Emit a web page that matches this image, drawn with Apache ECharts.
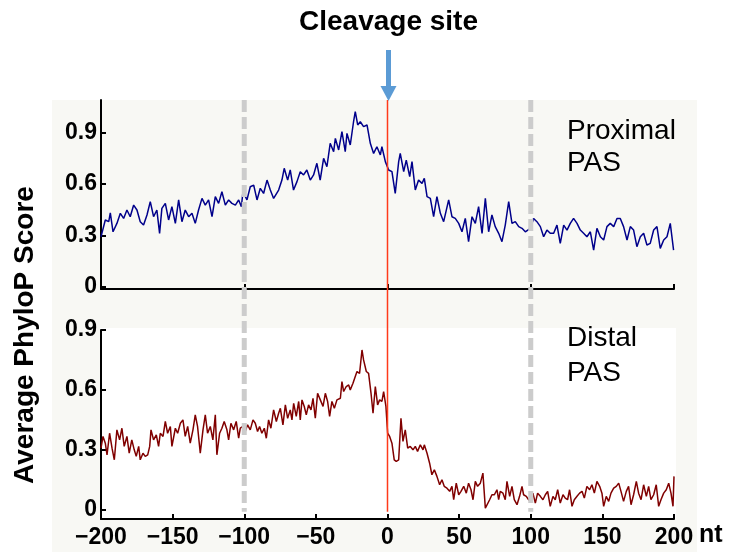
<!DOCTYPE html>
<html><head><meta charset="utf-8">
<script src="https://cdn.jsdelivr.net/npm/echarts@6/dist/echarts.min.js"></script>
<style>html,body{margin:0;padding:0;background:#fff}#c{width:730px;height:552px}</style>
</head><body><div id="c"></div>
<script>
// ---- data ----
const proximalNt = [-200.0,-197.0,-194.6,-193.5,-191.6,-188.9,-186.5,-184.2,-181.9,-179.6,-177.2,-174.9,-172.6,-170.3,-167.9,-165.6,-163.3,-161.0,-159.1,-157.5,-155.1,-152.8,-150.5,-148.1,-145.8,-143.5,-141.2,-138.8,-136.5,-134.2,-131.9,-129.5,-127.2,-124.9,-122.5,-120.2,-117.9,-115.6,-113.2,-110.9,-108.6,-106.2,-103.9,-102.0,-100.9,-98.1,-95.8,-93.4,-91.1,-88.8,-86.5,-84.1,-81.8,-79.5,-76.0,-73.7,-72.1,-69.7,-67.9,-65.6,-63.2,-60.9,-58.6,-56.3,-53.9,-51.6,-49.3,-47.0,-44.6,-42.3,-40.0,-37.6,-36.4,-34.1,-31.8,-29.5,-28.3,-26.0,-23.7,-22.5,-20.8,-19.0,-16.7,-14.3,-12.0,-9.7,-7.4,-5.0,-3.9,-1.5,0.8,3.1,5.4,7.8,8.9,11.3,13.1,15.5,17.1,19.4,21.7,24.1,25.7,27.6,29.9,32.2,34.5,36.9,39.2,42.7,45.0,47.3,49.7,52.0,54.3,56.6,59.0,61.3,63.6,66.0,68.3,70.6,72.9,75.2,77.6,79.9,82.2,84.6,86.9,89.2,91.6,93.9,96.2,99.7,102.0,104.3,106.7,109.0,111.3,113.6,116.0,118.3,120.6,123.0,125.3,127.6,129.9,132.3,134.6,136.9,139.2,141.6,143.9,146.2,148.6,150.9,153.2,155.5,157.9,160.2,162.5,164.8,167.2,169.5,171.8,174.1,176.5,178.8,181.1,183.4,185.8,188.1,190.4,192.8,195.1,197.4,198.6,199.7];
const proximalScore = [0.292,0.390,0.380,0.432,0.321,0.370,0.429,0.399,0.448,0.409,0.477,0.448,0.380,0.360,0.419,0.497,0.409,0.448,0.312,0.458,0.487,0.390,0.468,0.370,0.507,0.380,0.448,0.409,0.429,0.370,0.448,0.516,0.477,0.507,0.409,0.526,0.487,0.555,0.477,0.507,0.487,0.477,0.507,0.468,0.555,0.507,0.584,0.594,0.507,0.575,0.545,0.623,0.565,0.516,0.565,0.623,0.692,0.623,0.682,0.565,0.614,0.672,0.653,0.682,0.623,0.653,0.721,0.623,0.750,0.701,0.838,0.789,0.867,0.799,0.906,0.789,0.896,0.828,0.964,1.023,0.945,0.964,0.935,0.945,0.838,0.779,0.818,0.770,0.818,0.731,0.682,0.672,0.545,0.731,0.779,0.672,0.740,0.643,0.731,0.565,0.623,0.604,0.633,0.526,0.516,0.409,0.526,0.429,0.380,0.507,0.409,0.399,0.370,0.321,0.399,0.263,0.409,0.370,0.468,0.312,0.516,0.321,0.419,0.351,0.312,0.263,0.360,0.497,0.370,0.380,0.351,0.341,0.321,0.341,0.399,0.380,0.351,0.292,0.331,0.312,0.312,0.360,0.253,0.360,0.331,0.370,0.399,0.370,0.331,0.312,0.292,0.321,0.214,0.341,0.292,0.273,0.351,0.370,0.351,0.399,0.399,0.351,0.273,0.351,0.331,0.234,0.292,0.312,0.244,0.253,0.331,0.351,0.224,0.273,0.292,0.370,0.380,0.214];

const distalNt = [-200.0,-198.6,-197.0,-195.8,-194.0,-192.3,-190.7,-188.9,-187.0,-185.4,-183.8,-181.9,-180.3,-178.5,-176.8,-175.4,-173.7,-172.6,-170.7,-169.1,-167.4,-166.0,-165.1,-163.3,-161.4,-159.8,-158.6,-156.7,-155.1,-153.5,-151.6,-150.5,-148.1,-146.5,-144.6,-142.8,-141.2,-139.5,-137.7,-135.8,-134.2,-132.6,-130.7,-128.8,-127.2,-125.6,-123.7,-121.9,-120.2,-119.1,-117.2,-115.6,-114.0,-112.1,-110.9,-109.3,-107.4,-105.6,-103.9,-102.8,-100.9,-99.3,-97.7,-95.8,-93.9,-92.3,-90.7,-89.3,-87.7,-86.0,-84.6,-83.0,-81.4,-79.5,-77.6,-76.0,-74.8,-73.0,-71.3,-69.7,-67.9,-66.7,-65.5,-63.7,-62.0,-60.9,-59.7,-58.1,-56.7,-55.1,-53.4,-52.0,-50.4,-48.8,-46.9,-45.0,-43.4,-41.8,-40.4,-38.8,-37.1,-35.3,-32.9,-31.8,-30.6,-28.8,-27.1,-26.0,-24.1,-22.5,-21.3,-19.5,-17.8,-16.7,-14.8,-13.2,-11.5,-10.1,-8.5,-6.9,-5.5,-3.9,-2.7,-1.1,0.1,1.5,3.1,4.7,6.1,7.8,9.4,10.8,12.4,14.1,15.9,17.8,19.4,21.0,22.9,24.8,25.7,27.6,29.4,31.0,32.7,34.5,36.4,38.0,39.6,41.5,43.4,45.0,46.2,48.0,49.7,51.3,53.2,55.0,56.6,58.3,59.7,61.3,62.9,64.8,66.6,68.3,69.6,71.3,72.9,74.6,76.4,77.6,78.7,80.6,82.2,83.4,85.3,86.9,88.5,90.4,92.2,93.9,95.0,96.9,98.5,100.2,101.5,103.2,104.8,106.7,108.5,110.2,111.8,113.6,115.5,117.1,118.8,120.6,122.5,124.1,125.7,127.1,128.8,130.4,132.3,134.1,135.8,137.4,139.2,141.1,142.7,144.4,146.2,148.1,149.7,150.9,152.7,154.4,156.0,157.9,159.7,161.4,163.0,164.8,166.7,168.3,170.0,171.8,173.7,175.3,177.0,178.8,180.7,182.3,183.9,185.8,187.6,189.3,190.9,192.8,194.6,196.3,197.9,199.3,200.0];
const distalScore = [0.308,0.367,0.333,0.275,0.383,0.308,0.250,0.400,0.350,0.408,0.317,0.367,0.283,0.350,0.300,0.267,0.317,0.250,0.283,0.267,0.275,0.317,0.400,0.350,0.375,0.317,0.383,0.367,0.442,0.383,0.417,0.317,0.408,0.383,0.433,0.450,0.367,0.417,0.333,0.400,0.475,0.417,0.283,0.400,0.475,0.383,0.417,0.350,0.475,0.275,0.383,0.408,0.442,0.400,0.350,0.433,0.400,0.442,0.358,0.408,0.417,0.392,0.425,0.400,0.450,0.433,0.392,0.417,0.383,0.408,0.358,0.450,0.408,0.500,0.442,0.483,0.508,0.425,0.525,0.458,0.500,0.450,0.533,0.467,0.542,0.450,0.550,0.517,0.475,0.525,0.500,0.558,0.458,0.583,0.550,0.517,0.583,0.542,0.467,0.542,0.508,0.550,0.558,0.642,0.592,0.617,0.625,0.600,0.633,0.667,0.692,0.683,0.800,0.750,0.692,0.683,0.583,0.483,0.617,0.525,0.550,0.542,0.592,0.517,0.383,0.367,0.333,0.250,0.242,0.250,0.458,0.342,0.400,0.308,0.317,0.300,0.317,0.292,0.325,0.300,0.325,0.283,0.233,0.175,0.200,0.167,0.125,0.150,0.117,0.108,0.092,0.117,0.050,0.133,0.075,0.092,0.117,0.083,0.133,0.100,0.050,0.142,0.117,0.133,0.183,0.008,0.008,0.050,0.075,0.075,0.100,0.050,0.092,0.083,0.050,0.142,0.067,0.117,0.050,0.025,0.067,0.117,0.075,0.067,0.050,0.042,0.083,0.033,0.083,0.067,0.050,0.075,0.092,0.017,0.067,0.050,0.100,0.033,0.075,0.058,0.050,0.100,0.017,0.050,0.067,0.083,0.092,0.058,0.117,0.100,0.125,0.083,0.142,0.117,0.083,0.017,0.067,0.042,0.083,0.108,0.117,0.133,0.092,0.042,0.092,0.117,0.025,0.075,0.142,0.083,0.050,0.125,0.067,0.117,0.050,0.075,0.125,0.017,0.050,0.083,0.100,0.133,0.083,0.017,0.167];

const xTickValues = [-200, -150, -100, -50, 0, 50, 100, 150, 200];
const yTickValues = [0, 0.3, 0.6, 0.9];
const markerNt = [-100, 0, 100];     // dashed guides and cleavage site
const titleText = 'Cleavage site';
const yTitle = 'Average PhyloP Score';
const panelNames = [['Proximal', 'PAS'], ['Distal', 'PAS']];
const xUnit = 'nt';

// ---- chart ----
const FONT = "'Liberation Sans', Arial, Helvetica, sans-serif";
const pair = (xs, ys) => xs.map((x, i) => [x, ys[i]]);
const yFmt = v => (v === 0 ? '0' : v.toFixed(1));
const xFmt = v => String(v).replace('-', '\u2212');

const axisLine = { show: true, onZero: false, lineStyle: { color: '#000', width: 2 } };
const tickStyle = { color: '#000', width: 2 };

const option = {
  animation: false,
  backgroundColor: '#ffffff',
  grid: [
    { left: 101, right: 56, top: 100, height: 189 },
    { left: 101, right: 56, top: 330, height: 189 }
  ],
  xAxis: [
    { gridIndex: 0, type: 'value', min: -200, max: 200, interval: 100,
      axisLine, axisTick: { show: true, inside: true, length: 5, lineStyle: tickStyle },
      axisLabel: { show: false }, splitLine: { show: false } },
    { gridIndex: 1, type: 'value', min: -200, max: 200, interval: 50,
      axisLine, axisTick: { show: true, inside: true, length: 5, lineStyle: tickStyle },
      axisLabel: { show: true, formatter: xFmt, color: '#000', fontFamily: FONT,
                   fontWeight: 'bold', fontSize: 23, margin: 7 },
      splitLine: { show: false } }
  ],
  yAxis: [
    { gridIndex: 0, type: 'value', min: -0.0134, max: 1.091,
      axisLine, axisTick: { show: true, inside: true, length: 5, lineStyle: tickStyle, customValues: yTickValues },
      axisLabel: { show: true, customValues: yTickValues, formatter: yFmt, color: '#000', fontFamily: FONT,
                   fontWeight: 'bold', fontSize: 23, margin: 4 },
      splitLine: { show: false } },
    { gridIndex: 1, type: 'value', min: -0.0465, max: 0.9,
      axisLine, axisTick: { show: true, inside: true, length: 5, lineStyle: tickStyle, customValues: yTickValues },
      axisLabel: { show: true, customValues: yTickValues, formatter: yFmt, color: '#000', fontFamily: FONT,
                   fontWeight: 'bold', fontSize: 23, margin: 4 },
      splitLine: { show: false } }
  ],
  series: [
    { name: 'Proximal PAS', type: 'line', xAxisIndex: 0, yAxisIndex: 0,
      data: pair(proximalNt, proximalScore), showSymbol: false, symbol: 'none',
      lineStyle: { color: '#00008b', width: 1.5 }, z: 3 },
    { name: 'Distal PAS', type: 'line', xAxisIndex: 1, yAxisIndex: 1,
      data: pair(distalNt, distalScore), showSymbol: false, symbol: 'none',
      lineStyle: { color: '#800000', width: 1.5 }, z: 3 }
  ]
};

const chart = echarts.init(document.getElementById('c'), null, { renderer: 'canvas' });
chart.setOption(option);

// positions derived from the axes
const xp = v => chart.convertToPixel({ xAxisIndex: 0 }, v);
const yTop = chart.convertToPixel({ yAxisIndex: 0 }, 1.091);
const yEnd = chart.convertToPixel({ yAxisIndex: 1 }, -0.01);
const x0 = xp(markerNt[1]);

const graphics = [
  { type: 'rect', z: -20, silent: true, shape: { x: 52, y: 100, width: 645, height: 452 }, style: { fill: '#f8f8f4' } },
  { type: 'rect', z: -19, silent: true, shape: { x: 100, y: 328, width: 576, height: 191 }, style: { fill: '#ffffff' } },
  { type: 'line', z: 10, silent: true, shape: { x1: xp(markerNt[0]), y1: yTop, x2: xp(markerNt[0]), y2: yEnd },
    style: { stroke: '#cccccc', lineWidth: 5, lineDash: [12, 5] } },
  { type: 'line', z: 10, silent: true, shape: { x1: xp(markerNt[2]), y1: yTop, x2: xp(markerNt[2]), y2: yEnd },
    style: { stroke: '#cccccc', lineWidth: 5, lineDash: [12, 5] } },
  { type: 'line', z: 11, silent: true, shape: { x1: x0, y1: yTop, x2: x0, y2: yEnd },
    style: { stroke: '#ff3a1a', lineWidth: 1.5 } },
  { type: 'rect', z: 12, silent: true, shape: { x: x0 - 1.5, y: 50, width: 5, height: 37 }, style: { fill: '#5b9bd5' } },
  { type: 'polygon', z: 12, silent: true, shape: { points: [[x0 - 7, 86], [x0 + 9, 86], [x0 + 1, 101]] }, style: { fill: '#5b9bd5' } },
  { type: 'text', z: 12, silent: true, x: x0 + 1, y: 22,
    style: { text: titleText, font: 'bold 28px ' + FONT, fill: '#000', textAlign: 'center', textVerticalAlign: 'middle' } },
  { type: 'text', z: 12, silent: true, x: 25, y: 335, rotation: Math.PI / 2,
    style: { text: yTitle, font: 'bold 28px ' + FONT, fill: '#000', textAlign: 'center', textVerticalAlign: 'middle' } },
  { type: 'text', z: 12, silent: true, x: 567, y: 131.5,
    style: { text: panelNames[0][0], font: '28px ' + FONT, fill: '#000', textAlign: 'left', textVerticalAlign: 'middle' } },
  { type: 'text', z: 12, silent: true, x: 567, y: 163,
    style: { text: panelNames[0][1], font: '28px ' + FONT, fill: '#000', textAlign: 'left', textVerticalAlign: 'middle' } },
  { type: 'text', z: 12, silent: true, x: 567, y: 338,
    style: { text: panelNames[1][0], font: '28px ' + FONT, fill: '#000', textAlign: 'left', textVerticalAlign: 'middle' } },
  { type: 'text', z: 12, silent: true, x: 567, y: 373,
    style: { text: panelNames[1][1], font: '28px ' + FONT, fill: '#000', textAlign: 'left', textVerticalAlign: 'middle' } },
  { type: 'text', z: 12, silent: true, x: 699, y: 535,
    style: { text: xUnit, font: 'bold 25px ' + FONT, fill: '#000', textAlign: 'left', textVerticalAlign: 'middle' } }
];
chart.setOption({ graphic: graphics });
</script>
</body></html>
